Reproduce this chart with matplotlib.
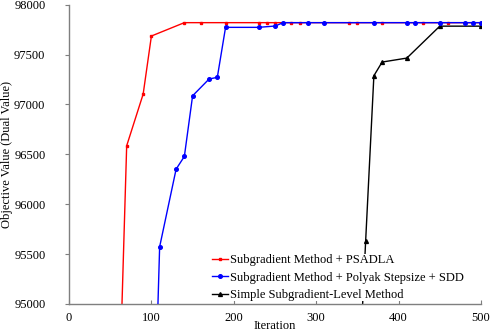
import matplotlib
matplotlib.use("Agg")
import matplotlib.pyplot as plt

plt.rcParams['font.family'] = ['Liberation Serif', 'DejaVu Serif']

red_x = [60, 70, 90, 100, 140, 160, 190, 230, 240, 250, 270, 280, 340, 350, 380, 430, 460, 500]
red_y = [93800, 96586, 97104, 97686, 97820, 97820, 97820, 97820, 97820, 97820, 97820, 97820,
         97820, 97820, 97820, 97820, 97820, 97820]

blue_x = [100, 110, 130, 140, 150, 170, 180, 190, 230, 250, 260, 290, 310, 370, 410, 420, 450, 480, 490, 500]
blue_y = [92770, 95573, 96352, 96479, 97087, 97255, 97272, 97773, 97773, 97786, 97820, 97820,
          97820, 97820, 97820, 97820, 97820, 97820, 97820, 97820]

black_x = [350, 360, 370, 380, 410, 450, 500]
black_y = [93900, 95630, 97288, 97425, 97465, 97785, 97785]

labels = ["Subgradient Method + PSADLA",
          "Subgradient Method + Polyak Stepsize + SDD",
          "Simple Subgradient-Level Method"]

fig = plt.figure(figsize=(4.91, 3.31), dpi=100)
ax = fig.add_axes([69/491, 1-304/331, (481-69)/491, (304-4.7)/331])

ax.plot(red_x, red_y, color='#ff0000', lw=1.0, marker='s', ms=1.8, label=labels[0], zorder=2)
ax.plot(blue_x, blue_y, color='#0000ff', lw=1.0, marker='o', ms=2.6, label=labels[1], zorder=3)
ax.plot(black_x, black_y, color='black', lw=1.0, marker='^', ms=2.8, label=labels[2], zorder=2)

ax.set_xlim(0, 500)
ax.set_ylim(95000, 98000)
ax.set_xticks([0, 100, 200, 300, 400, 500])
ax.set_yticks([95000, 95500, 96000, 96500, 97000, 97500, 98000])

for s in ['top', 'right']:
    ax.spines[s].set_visible(False)
for s in ['left', 'bottom']:
    ax.spines[s].set_color('#7f7f7f')
    ax.spines[s].set_linewidth(1.0)
ax.tick_params(axis='y', direction='out', length=3, color='#7f7f7f', labelsize=9, pad=14)
ax.tick_params(axis='x', direction='in', length=3, color='#7f7f7f', labelsize=9, pad=6)

ax.set_xlabel('Iteration', fontsize=9, labelpad=-3)
ax.set_ylabel('Objective Value (Dual Value)', fontsize=9, labelpad=0.5)

leg = ax.legend(loc='upper left', bbox_to_anchor=(212/491, 1-254/331), bbox_transform=fig.transFigure,
                fontsize=9, handlelength=1.3, handletextpad=0.15, labelspacing=0.45,
                borderpad=0.0, borderaxespad=0.0, frameon=True, fancybox=False)
leg.get_frame().set_edgecolor('none')
leg.get_frame().set_facecolor('white')
leg.get_frame().set_alpha(1.0)
leg.set_zorder(5)

fig.savefig('out.png', dpi=100)
